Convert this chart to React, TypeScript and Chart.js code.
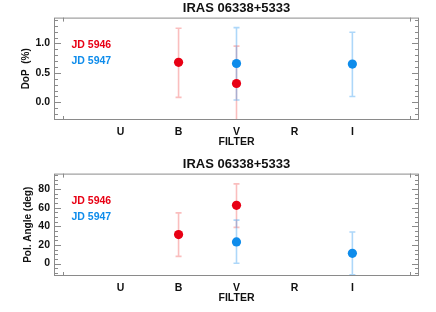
import React, { useEffect, useRef } from "react";
import { Chart, registerables } from "chart.js";

Chart.register(...registerables);

const filters = ["U", "B", "V", "R", "I"];
const filterPos = [1, 2, 3, 4, 5];
const seriesNames = ["JD 5946", "JD 5947"];
const seriesColors = ["rgb(232,0,20)", "rgb(14,140,235)"];
const errColors = ["rgba(240,70,70,0.35)", "rgba(40,150,240,0.38)"];

// DoP (%) values per filter (null = no measurement)
const dop5946 = [null, 0.68, 0.32, null, null];
const dop5946Lo = [null, 0.085, -0.32, null, null];
const dop5946Hi = [null, 1.26, 0.956, null, null];
const dop5947 = [null, null, 0.66, null, 0.65];
const dop5947Lo = [null, null, 0.04, null, 0.1];
const dop5947Hi = [null, null, 1.27, null, 1.19];

// Polarisation angle (deg)
const pa5946 = [null, 31.2, 62.6, null, null];
const pa5946Lo = [null, 7.8, 38.9, null, null];
const pa5946Hi = [null, 54.5, 85.6, null, null];
const pa5947 = [null, null, 23.3, null, 11.0];
const pa5947Lo = [null, null, 0.4, null, -12];
const pa5947Hi = [null, null, 46.7, null, 34];

const dopTicks = [0, 0.5, 1.0];
const paTicks = [0, 20, 40, 60, 80];

const FONT = "'Liberation Sans', Arial, Helvetica, sans-serif";

type Panel = {
  title: string;
  yTitle: string;
  yTitlePad: number;
  yMin: number;
  yMax: number;
  yTicks: number[];
  yMinor: number;
  decimals: number;
  vals: (number | null)[][];
  lo: (number | null)[][];
  hi: (number | null)[][];
};

const framePlugin = {
  id: "idlFrame",
  beforeDatasetsDraw(chart: any) {
    const { ctx, chartArea: a } = chart;
    const panel: Panel = chart.options.plugins.idlFrame.panel;
    const xs = chart.scales.x;
    const ys = chart.scales.y;
    ctx.save();
    ctx.beginPath();
    ctx.rect(a.left, a.top, a.right - a.left, a.bottom - a.top);
    ctx.clip();
    ctx.lineWidth = 1.6;
    panel.vals.forEach((vals, si) => {
      ctx.strokeStyle = errColors[si];
      vals.forEach((v, i) => {
        if (v === null) return;
        const x = xs.getPixelForValue(filterPos[i]);
        const y1 = ys.getPixelForValue(panel.lo[si][i] as number);
        const y2 = ys.getPixelForValue(panel.hi[si][i] as number);
        ctx.beginPath();
        ctx.moveTo(x, y1);
        ctx.lineTo(x, y2);
        ctx.moveTo(x - 3, y1);
        ctx.lineTo(x + 3, y1);
        ctx.moveTo(x - 3, y2);
        ctx.lineTo(x + 3, y2);
        ctx.stroke();
      });
    });
    ctx.restore();
  },
  afterDraw(chart: any) {
    const { ctx, chartArea: a } = chart;
    const panel: Panel = chart.options.plugins.idlFrame.panel;
    const xs = chart.scales.x;
    const ys = chart.scales.y;
    ctx.save();
    ctx.strokeStyle = "#8a8a8a";
    ctx.lineWidth = 1;
    ctx.strokeRect(a.left + 0.5, a.top + 0.5, a.right - a.left - 1, a.bottom - a.top - 1);
    ctx.beginPath();
    panel.yTicks.forEach((t) => {
      const y = Math.round(ys.getPixelForValue(t)) + 0.5;
      ctx.moveTo(a.left, y);
      ctx.lineTo(a.left + 7, y);
      ctx.moveTo(a.right, y);
      ctx.lineTo(a.right - 7, y);
    });
    const start = Math.ceil(panel.yMin / panel.yMinor);
    const end = Math.floor(panel.yMax / panel.yMinor);
    for (let k = start; k <= end; k++) {
      const v = k * panel.yMinor;
      const y = Math.round(ys.getPixelForValue(v)) + 0.5;
      ctx.moveTo(a.left, y);
      ctx.lineTo(a.left + 4, y);
      ctx.moveTo(a.right, y);
      ctx.lineTo(a.right - 4, y);
    }
    [0, 6].forEach((t) => {
      const x = Math.round(xs.getPixelForValue(t)) + 0.5;
      ctx.moveTo(x, a.bottom);
      ctx.lineTo(x, a.bottom - 4);
      ctx.moveTo(x, a.top);
      ctx.lineTo(x, a.top + 4);
    });
    ctx.stroke();
    ctx.font = `bold 10.5px ${FONT}`;
    ctx.textBaseline = "middle";
    ctx.textAlign = "left";
    seriesNames.forEach((n, i) => {
      ctx.fillStyle = seriesColors[i];
      ctx.fillText(n, a.left + 17.5, a.top + 27.5 + i * 16);
    });
    ctx.restore();
  },
};

function PanelChart({ panel }: { panel: Panel }) {
  const ref = useRef<HTMLCanvasElement>(null);
  useEffect(() => {
    if (!ref.current) return;
    const datasets = panel.vals.map((vals, si) => ({
      label: seriesNames[si],
      data: vals
        .map((v, i) => (v === null ? null : { x: filterPos[i], y: v }))
        .filter((p) => p !== null),
      backgroundColor: seriesColors[si],
      borderColor: seriesColors[si],
      pointRadius: 4.6,
      pointBorderWidth: 0,
      showLine: false,
    }));
    const chart = new Chart(ref.current, {
      type: "scatter",
      data: { datasets: datasets as any },
      plugins: [framePlugin],
      options: {
        animation: false,
        responsive: false,
        layout: { padding: { left: 0, right: 17, top: 0, bottom: 0 } },
        plugins: {
          legend: { display: false },
          tooltip: { enabled: false },
          title: {
            display: true,
            fullSize: false,
            text: panel.title,
            color: "#111",
            font: { family: FONT, size: 13, weight: "bold" },
            padding: { top: 1, bottom: 1 },
          },
          idlFrame: { panel },
        } as any,
        scales: {
          x: {
            type: "linear",
            min: -0.15,
            max: 6.15,
            grid: { display: false, drawTicks: false },
            border: { display: false },
            afterBuildTicks: (s: any) => {
              s.ticks = filterPos.map((v) => ({ value: v }));
            },
            afterFit: (s: any) => {
              s.height = 36;
            },
            ticks: {
              padding: 6,
              color: "#111",
              font: { family: FONT, size: 10.5, weight: "bold" },
              callback: (v: any) => filters[filterPos.indexOf(Number(v))] ?? "",
              maxRotation: 0,
              autoSkip: false,
            },
            title: {
              display: true,
              text: "FILTER",
              color: "#111",
              font: { family: FONT, size: 10.5, weight: "bold" },
              padding: { top: 0, bottom: 8 },
            },
          },
          y: {
            type: "linear",
            min: panel.yMin,
            max: panel.yMax,
            grid: { display: false, drawTicks: false },
            border: { display: false },
            afterBuildTicks: (s: any) => {
              s.ticks = panel.yTicks.map((v) => ({ value: v }));
            },
            afterFit: (s: any) => {
              s.width = 54;
            },
            ticks: {
              padding: 4,
              color: "#111",
              font: { family: FONT, size: 10.5, weight: "bold" },
              callback: (v: any) => Number(v).toFixed(panel.decimals),
            },
            title: {
              display: true,
              text: panel.yTitle,
              color: "#111",
              font: { family: FONT, size: 10, weight: "bold" },
              padding: { top: panel.yTitlePad, bottom: 0 },
            },
          },
        },
      } as any,
    });
    return () => chart.destroy();
  }, [panel]);
  return <canvas ref={ref} width={436} height={156} style={{ display: "block", width: 436, height: 156 }} />;
}

const topPanel: Panel = {
  title: "IRAS 06338+5333",
  yTitle: "DoP  (%)",
  yTitlePad: 20,
  yMin: -0.3,
  yMax: 1.44,
  yTicks: dopTicks,
  yMinor: 0.1,
  decimals: 1,
  vals: [dop5946, dop5947],
  lo: [dop5946Lo, dop5947Lo],
  hi: [dop5946Hi, dop5947Hi],
};

const bottomPanel: Panel = {
  title: "IRAS 06338+5333",
  yTitle: "Pol. Angle (deg)",
  yTitlePad: 22,
  yMin: -13.3,
  yMax: 96.6,
  yTicks: paTicks,
  yMinor: 5,
  decimals: 0,
  vals: [pa5946, pa5947],
  lo: [pa5946Lo, pa5947Lo],
  hi: [pa5946Hi, pa5947Hi],
};

export default function App() {
  return (
    <div style={{ position: "fixed", left: 0, top: 0, width: 436, height: 312, background: "#fff" }}>
      <PanelChart panel={topPanel} />
      <PanelChart panel={bottomPanel} />
    </div>
  );
}
